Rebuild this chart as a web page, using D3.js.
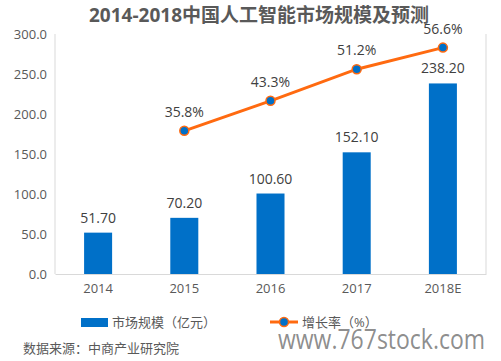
<!DOCTYPE html>
<html>
<head>
<meta charset="utf-8">
<script src="https://cdn.jsdelivr.net/npm/d3@7"></script>
<style>
  body { margin: 0; background: #fff; }
  text { font-family: "Open Sans", "Noto Sans CJK SC", sans-serif; }
</style>
</head>
<body>
<div id="chart"></div>
<script>
var WIDTH = 501, HEIGHT = 361;

// data
var years = ["2014", "2015", "2016", "2017", "2018E"];
var marketSize = [51.7, 70.2, 100.6, 152.1, 238.2];
var growthYears = ["2015", "2016", "2017", "2018E"];
var growthRate = [35.8, 43.3, 51.2, 56.6];
var yTicks = [0, 50, 100, 150, 200, 250, 300];

var BLUE = "#0070C8", ORANGE = "#FF6A10", GREY = "#595959", AXIS = "#D9D9D9";
var CJK = "'Noto Sans CJK SC', sans-serif";

var svg = d3.select("#chart").append("svg")
    .attr("width", WIDTH)
    .attr("height", HEIGHT);

var plot = { left: 55, right: 486, top: 34, bottom: 274 };

var x = d3.scaleBand().domain(years).range([plot.left, plot.right]).paddingInner(0.675).paddingOuter(0.3375);
var y = d3.scaleLinear().domain([0, 300]).range([plot.bottom, plot.top]);
var y2 = d3.scaleLinear().domain([0, 60]).range([plot.bottom, plot.top]);

// title
svg.append("text")
    .attr("x", 259).attr("y", 22)
    .attr("text-anchor", "middle")
    .attr("font-family", CJK)
    .attr("font-weight", "bold")
    .attr("font-size", 19)
    .attr("fill", GREY)
    .text("2014-2018中国人工智能市场规模及预测");

// frame lines
svg.append("line").attr("x1", plot.left).attr("x2", plot.left)
    .attr("y1", plot.top).attr("y2", plot.bottom).attr("stroke", AXIS);
svg.append("line").attr("x1", plot.right).attr("x2", plot.right)
    .attr("y1", plot.top).attr("y2", plot.bottom).attr("stroke", AXIS);

// y axis
var yAxis = svg.append("g")
    .attr("transform", "translate(" + plot.left + ",0)")
    .call(d3.axisLeft(y).tickValues(yTicks).tickFormat(d3.format(".1f")).tickSize(0).tickPadding(8));
yAxis.select(".domain").remove();
yAxis.selectAll("text").attr("font-size", 13).attr("fill", GREY)
    .attr("font-family", "'Open Sans', sans-serif");

// x axis
var xAxis = svg.append("g")
    .attr("transform", "translate(0," + plot.bottom + ")")
    .call(d3.axisBottom(x).tickSize(0).tickPadding(10));
xAxis.select(".domain").attr("stroke", AXIS);
xAxis.selectAll("text").attr("font-size", 13).attr("fill", GREY)
    .attr("font-family", "'Open Sans', sans-serif");

// bars
svg.selectAll(".bar").data(marketSize).enter().append("rect")
    .attr("class", "bar")
    .attr("x", function (d, i) { return x(years[i]); })
    .attr("width", x.bandwidth())
    .attr("y", function (d) { return y(d); })
    .attr("height", function (d) { return plot.bottom - y(d); })
    .attr("fill", BLUE);

svg.selectAll(".barlabel").data(marketSize).enter().append("text")
    .attr("x", function (d, i) { return x(years[i]) + x.bandwidth() / 2; })
    .attr("y", function (d) { return y(d) - 10; })
    .attr("text-anchor", "middle")
    .attr("font-size", 14)
    .attr("fill", "#404040")
    .text(function (d) { return d3.format(".2f")(d); });

// growth line
var cx = function (d, i) { return x(growthYears[i]) + x.bandwidth() / 2; };
var line = d3.line().x(cx).y(function (d) { return y2(d); });

svg.append("path").datum(growthRate)
    .attr("d", line)
    .attr("fill", "none")
    .attr("stroke", ORANGE)
    .attr("stroke-width", 3);

svg.selectAll(".dot").data(growthRate).enter().append("circle")
    .attr("cx", cx)
    .attr("cy", function (d) { return y2(d); })
    .attr("r", 4.5)
    .attr("fill", BLUE)
    .attr("stroke", ORANGE)
    .attr("stroke-width", 1.5);

svg.selectAll(".ratelabel").data(growthRate).enter().append("text")
    .attr("x", cx)
    .attr("y", function (d) { return y2(d) - 14; })
    .attr("text-anchor", "middle")
    .attr("font-size", 14)
    .attr("fill", "#404040")
    .text(function (d) { return d.toFixed(1) + "%"; });

// legend
var legend = svg.append("g");
legend.append("rect").attr("x", 81).attr("y", 318).attr("width", 27).attr("height", 9).attr("fill", BLUE);
legend.append("text").attr("x", 112).attr("y", 327)
    .attr("font-family", CJK).attr("font-size", 13).attr("fill", GREY)
    .text("市场规模（亿元）");
legend.append("line").attr("x1", 270).attr("x2", 298).attr("y1", 322).attr("y2", 322)
    .attr("stroke", ORANGE).attr("stroke-width", 3);
legend.append("circle").attr("cx", 284).attr("cy", 322).attr("r", 4.5)
    .attr("fill", BLUE).attr("stroke", ORANGE).attr("stroke-width", 1.5);
legend.append("text").attr("x", 302).attr("y", 327)
    .attr("font-family", CJK).attr("font-size", 13).attr("fill", GREY)
    .text("增长率（%）");

// source and watermark
svg.append("text").attr("x", 23).attr("y", 353)
    .attr("font-family", CJK).attr("font-size", 13).attr("fill", GREY)
    .text("数据来源：中商产业研究院");
svg.append("text")
    .attr("transform", "translate(278,349) scale(1,1.15)")
    .attr("font-family", "'Open Sans', sans-serif").attr("font-size", 23)
    .attr("fill", "#7f7f7f").attr("fill-opacity", 0.9)
    .text("www.767stock.com");
</script>
</body>
</html>
